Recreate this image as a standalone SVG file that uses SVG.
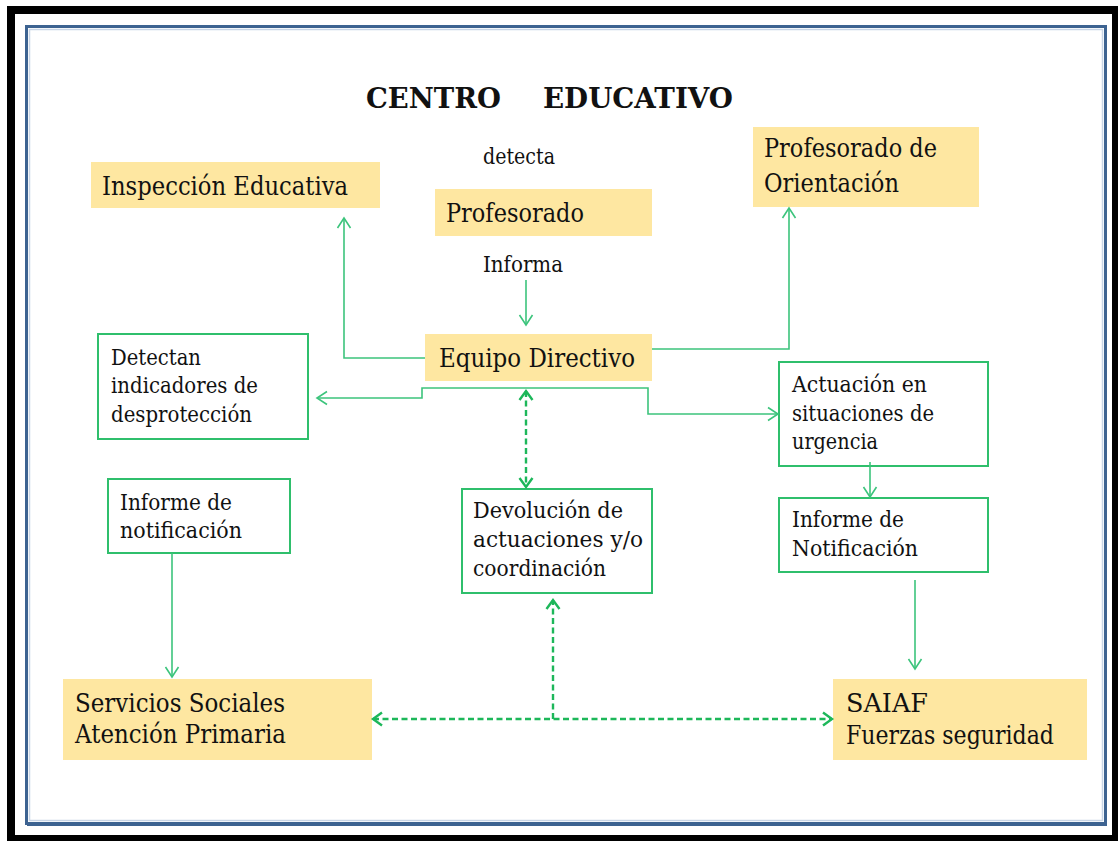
<svg xmlns="http://www.w3.org/2000/svg" width="1118" height="841" viewBox="0 0 1118 841">
<style>
text{font-family:'DejaVu Serif','Liberation Serif',serif;fill:#111;}
.big{font-size:26px;}
.sm{font-size:22.5px;}
.title{font-size:28px;font-weight:bold;}
.ybox{fill:#fee7a1;}
.gbox{fill:#fff;stroke:#2fbf6c;stroke-width:2;}
.conn{fill:none;stroke:#3cc47c;stroke-width:1.6;}
.dash{fill:none;stroke:#1db75a;stroke-width:2.4;stroke-dasharray:6,3.5;}
</style>
<defs>
<marker id="arr" markerUnits="userSpaceOnUse" markerWidth="20" markerHeight="20" viewBox="-12 -10 14 20" refX="0" refY="0" orient="auto-start-reverse">
<path d="M-10,-6.5 L0,0 L-10,6.5" fill="none" stroke="#3cc47c" stroke-width="1.6"/>
</marker>
<marker id="darr" markerUnits="userSpaceOnUse" markerWidth="20" markerHeight="20" viewBox="-12 -10 14 20" refX="0" refY="0" orient="auto-start-reverse">
<path d="M-9,-6.5 L0,0 L-9,6.5" fill="none" stroke="#1db75a" stroke-width="2.4" stroke-dasharray="none"/>
</marker>
</defs>
<rect x="0" y="0" width="1118" height="841" fill="#fff"/>
<rect x="11" y="10" width="1105" height="829" fill="none" stroke="#000" stroke-width="8"/>
<rect x="26.5" y="26.5" width="1079" height="797" fill="none" stroke="#3d6391" stroke-width="3"/>
<rect x="29.5" y="29.5" width="1073" height="791" fill="none" stroke="#c8d5e6" stroke-width="1.5"/>
<line x1="27" y1="825" x2="1107" y2="825" stroke="#3d6391" stroke-width="2"/>

<g id="title"><text class="title" x="366" y="108" textLength="135" lengthAdjust="spacingAndGlyphs">CENTRO</text><text class="title" x="543" y="108" textLength="190" lengthAdjust="spacingAndGlyphs">EDUCATIVO</text></g>
<g id="label-detecta"><text class="sm" x="483" y="164" textLength="72" lengthAdjust="spacingAndGlyphs">detecta</text></g>
<g id="label-informa"><text class="sm" x="483" y="272" textLength="80" lengthAdjust="spacingAndGlyphs">Informa</text></g>

<g id="inspeccion"><rect class="ybox" x="91" y="162" width="289" height="46"/><text class="big" x="102" y="195" textLength="246" lengthAdjust="spacingAndGlyphs">Inspección Educativa</text></g>
<g id="profesorado"><rect class="ybox" x="435" y="189" width="217" height="47"/><text class="big" x="446" y="222" textLength="138" lengthAdjust="spacingAndGlyphs">Profesorado</text></g>
<g id="orientacion"><rect class="ybox" x="753" y="127" width="226" height="80"/><text class="big" x="764" y="157" textLength="173" lengthAdjust="spacingAndGlyphs">Profesorado de</text><text class="big" x="764" y="192" textLength="135" lengthAdjust="spacingAndGlyphs">Orientación</text></g>
<g id="equipo"><rect class="ybox" x="425" y="334" width="227" height="47"/><text class="big" x="439" y="367" textLength="196" lengthAdjust="spacingAndGlyphs">Equipo Directivo</text></g>

<g id="detectan"><rect class="gbox" x="98" y="334" width="210" height="105"/><text class="sm" x="111" y="365" textLength="90" lengthAdjust="spacingAndGlyphs">Detectan</text><text class="sm" x="111" y="393" textLength="147" lengthAdjust="spacingAndGlyphs">indicadores de</text><text class="sm" x="111" y="422" textLength="141" lengthAdjust="spacingAndGlyphs">desprotección</text></g>
<g id="actuacion"><rect class="gbox" x="779" y="362" width="209" height="104"/><text class="sm" x="792" y="392" textLength="135" lengthAdjust="spacingAndGlyphs">Actuación en</text><text class="sm" x="792" y="421" textLength="142" lengthAdjust="spacingAndGlyphs">situaciones de</text><text class="sm" x="792" y="449" textLength="86" lengthAdjust="spacingAndGlyphs">urgencia</text></g>
<g id="informe-notif-izq"><rect class="gbox" x="108" y="479" width="182" height="74"/><text class="sm" x="120" y="510" textLength="112" lengthAdjust="spacingAndGlyphs">Informe de</text><text class="sm" x="120" y="538" textLength="122" lengthAdjust="spacingAndGlyphs">notificación</text></g>
<g id="devolucion"><rect class="gbox" x="462" y="489" width="190" height="104"/><text class="sm" x="473" y="518" textLength="150" lengthAdjust="spacingAndGlyphs">Devolución de</text><text class="sm" x="473" y="547" textLength="170" lengthAdjust="spacingAndGlyphs">actuaciones y/o</text><text class="sm" x="473" y="576" textLength="133" lengthAdjust="spacingAndGlyphs">coordinación</text></g>
<g id="informe-notif-der"><rect class="gbox" x="779" y="498" width="209" height="74"/><text class="sm" x="792" y="527" textLength="112" lengthAdjust="spacingAndGlyphs">Informe de</text><text class="sm" x="792" y="556" textLength="126" lengthAdjust="spacingAndGlyphs">Notificación</text></g>

<g id="servicios"><rect class="ybox" x="63" y="679" width="309" height="81"/><text class="big" x="75" y="712" textLength="210" lengthAdjust="spacingAndGlyphs">Servicios Sociales</text><text class="big" x="75" y="743" textLength="211" lengthAdjust="spacingAndGlyphs">Atención Primaria</text></g>
<g id="saiaf"><rect class="ybox" x="833" y="679" width="254" height="81"/><text class="big" x="846" y="712" textLength="82" lengthAdjust="spacingAndGlyphs">SAIAF</text><text class="big" x="846" y="744" textLength="208" lengthAdjust="spacingAndGlyphs">Fuerzas seguridad</text></g>

<g id="connectors">
<path class="conn" d="M526,280 V325" marker-end="url(#arr)"/>
<path class="conn" d="M425,358 H344 V218" marker-end="url(#arr)"/>
<path class="conn" d="M652,349 H789 V208" marker-end="url(#arr)"/>
<path class="conn" d="M526,388 H422 V398 H317" marker-end="url(#arr)"/>
<path class="conn" d="M526,388 H648 V414 H778" marker-end="url(#arr)"/>
<path class="conn" d="M870,462 V497" marker-end="url(#arr)"/>
<path class="conn" d="M915,580 V669" marker-end="url(#arr)"/>
<path class="conn" d="M172,553 V677" marker-end="url(#arr)"/>
<path class="dash" d="M526,391 V487" marker-start="url(#darr)" marker-end="url(#darr)"/>
<path class="dash" d="M373,719 H832" marker-start="url(#darr)" marker-end="url(#darr)"/>
<path class="dash" d="M553,719 V600" marker-end="url(#darr)"/>
</g>
</svg>
